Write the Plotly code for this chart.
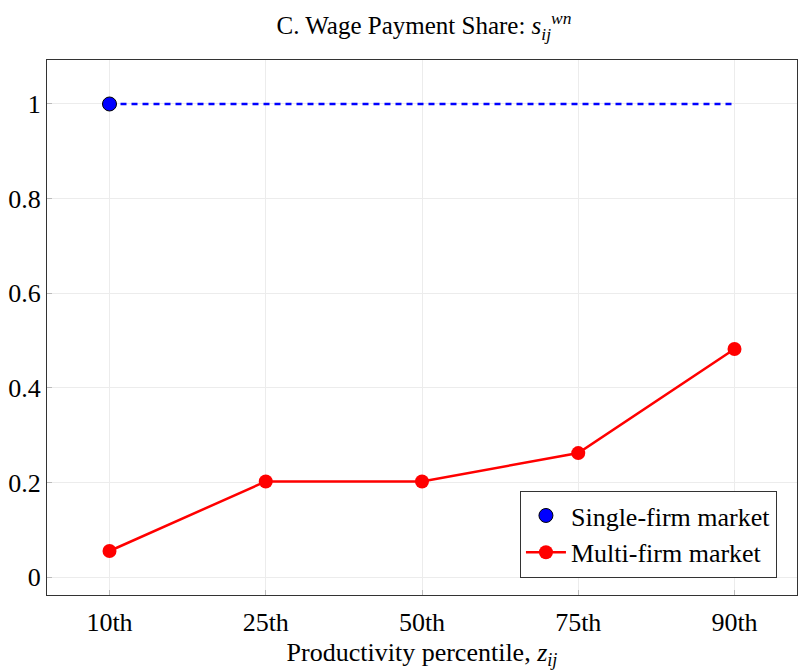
import plotly.graph_objects as go

categories = ["10th", "25th", "50th", "75th", "90th"]
single_firm = [1.0, 1.0, 1.0, 1.0, 1.0]
multi_firm = [0.055, 0.202, 0.202, 0.262, 0.482]
y_ticks = [0, 0.2, 0.4, 0.6, 0.8, 1.0]
y_tick_labels = ["0", "0.2", "0.4", "0.6", "0.8", "1"]

FONT = "Liberation Serif"
FS = 26
x_idx = list(range(len(categories)))

fig = go.Figure()
fig.add_trace(go.Scatter(
    x=x_idx, y=single_firm, mode="lines",
    line=dict(color="blue", width=2.5, dash="6px,5px"),
    showlegend=False, hoverinfo="skip"))
fig.add_trace(go.Scatter(
    x=x_idx[:1], y=single_firm[:1], mode="markers",
    marker=dict(color="blue", size=14, line=dict(color="black", width=1)),
    name="Single-firm market"))
fig.add_trace(go.Scatter(
    x=x_idx, y=multi_firm, mode="lines+markers",
    line=dict(color="red", width=2.5),
    marker=dict(color="red", size=14),
    name="Multi-firm market"))

fig.update_layout(
    width=800, height=671,
    margin=dict(l=47, r=3, t=60, b=76),
    paper_bgcolor="white", plot_bgcolor="white",
    font=dict(family=FONT, size=FS, color="black"),
    title=dict(text="C. Wage Payment Share: <i>s</i><sub><i>ij</i></sub><sup><i>wn</i></sup>",
               x=0.53, xanchor="center", y=0.975, yanchor="top",
               font=dict(family=FONT, size=25)),
    legend=dict(x=0.973, y=0.032, xanchor="right", yanchor="bottom",
                bgcolor="white", bordercolor="#333", borderwidth=1.2,
                font=dict(family=FONT, size=FS), tracegroupgap=0, itemwidth=40),
    xaxis=dict(
        range=[-0.4, 4.4], tickmode="array", tickvals=x_idx, ticktext=categories,
        showgrid=True, gridcolor="#ececec", gridwidth=1,
        showline=True, linecolor="#333", linewidth=1.2, mirror=True,
        ticks="inside", ticklen=5, tickcolor="#bbb", zeroline=False,
        ticklabelstandoff=4,
        title=dict(text="Productivity percentile, <i>z</i><sub><i>ij</i></sub>",
                   font=dict(family=FONT, size=FS), standoff=6),
        tickfont=dict(family=FONT, size=FS)),
    yaxis=dict(
        range=[-0.038, 1.093], tickmode="array", tickvals=y_ticks, ticktext=y_tick_labels,
        showgrid=True, gridcolor="#ececec", gridwidth=1,
        showline=True, linecolor="#333", linewidth=1.2, mirror=True,
        ticks="inside", ticklen=5, tickcolor="#bbb", zeroline=False,
        tickfont=dict(family=FONT, size=FS)),
)

fig.write_html("out.html")
